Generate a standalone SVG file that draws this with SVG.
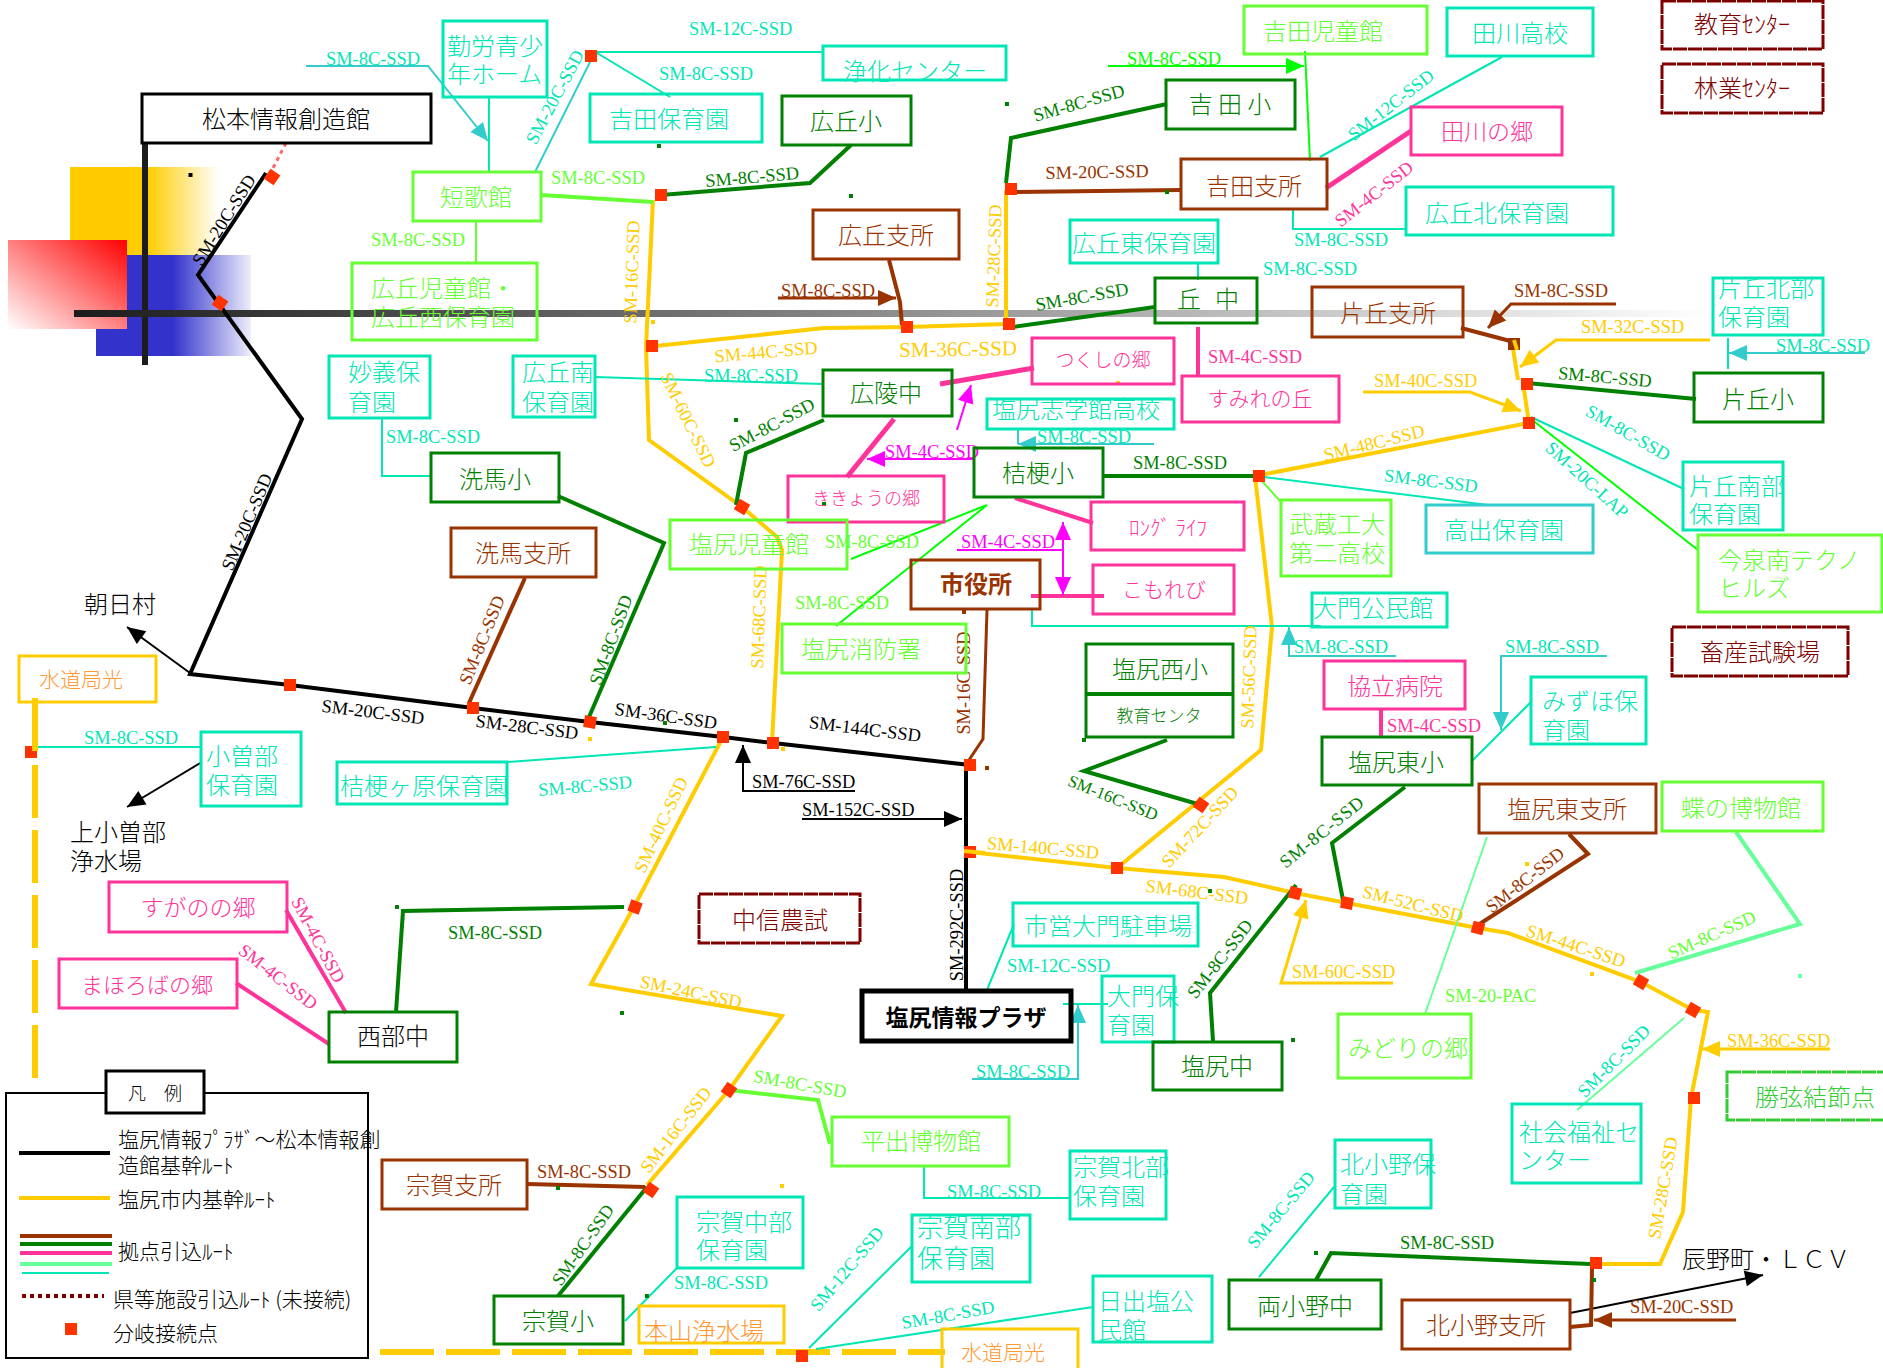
<svg xmlns="http://www.w3.org/2000/svg" width="1883" height="1368" viewBox="0 0 1883 1368">
<style>
text{font-family:"Noto Sans CJK JP","Noto Sans CJK SC",sans-serif;font-size:24px;font-weight:300}
.m{text-anchor:middle}
.l,.lr{font-family:"Liberation Serif","Noto Sans CJK JP",serif;font-size:18.4px;font-weight:400}
.lr{text-anchor:middle;dominant-baseline:central}
rect.b,path,line{fill:none}
rect.b{stroke-width:3}
.w2{stroke-width:2}.w3{stroke-width:3}.w4{stroke-width:4}.w5{stroke-width:5}
.st{stroke:#00e6b4}.sc{stroke:#33cccc}.sg{stroke:#66ff33}.sm{stroke:#66ff99}.sl{stroke:#00ff00}.sd{stroke:#008000}.sb{stroke:#993300}.sp{stroke:#ff3399}.sv{stroke:#ff00ff}.sy{stroke:#ffcc00}.sk{stroke:#000}.sr{stroke:#800000}
.ft{fill:#00e6b4}.fg{fill:#66ff33}.fd{fill:#008000}.fb{fill:#993300}.fp{fill:#ff3399}.fv{fill:#ff00ff}.fy{fill:#ffcc00}.fk{fill:#000}.fr{fill:#800000}.fo{fill:#ff9933}.fa{fill:#33cc33}.fl{fill:#00ff00}
.dash{stroke-dasharray:14 1}
</style>
<defs>
<linearGradient id="gGold" gradientUnits="userSpaceOnUse" x1="148" y1="0" x2="219" y2="0"><stop offset="0" stop-color="#ffcc00"/><stop offset="1" stop-color="#fff"/></linearGradient>
<linearGradient id="gBlue" gradientUnits="userSpaceOnUse" x1="173" y1="0" x2="251" y2="0"><stop offset="0" stop-color="#3333cc"/><stop offset="1" stop-color="#eeeefb"/></linearGradient>
<linearGradient id="gRed" x1="0" y1="1" x2="1" y2="0"><stop offset="0" stop-color="#fff"/><stop offset="1" stop-color="#ff0000"/></linearGradient>
<linearGradient id="gBar" gradientUnits="userSpaceOnUse" x1="74" y1="0" x2="1712" y2="0"><stop offset="0" stop-color="#1c1c1c"/><stop offset="1" stop-color="#fff"/></linearGradient>
<rect id="j" x="-6" y="-6" width="12" height="12" fill="#ff3300"/>
<rect id="dg" x="-2" y="-2" width="4" height="4" fill="#008000"/>
<rect id="dy" x="-2" y="-2" width="4" height="4" fill="#ffcc00"/>
<marker id="ak" markerUnits="userSpaceOnUse" markerWidth="20" markerHeight="20" viewBox="0 0 20 20" refX="19" refY="10" orient="auto"><path d="M1 2L19 10L1 18Z" style="fill:#000;stroke:none"/></marker>
<marker id="ac" markerUnits="userSpaceOnUse" markerWidth="20" markerHeight="20" viewBox="0 0 20 20" refX="19" refY="10" orient="auto"><path d="M1 2L19 10L1 18Z" style="fill:#33cccc;stroke:none"/></marker>
<marker id="al" markerUnits="userSpaceOnUse" markerWidth="20" markerHeight="20" viewBox="0 0 20 20" refX="19" refY="10" orient="auto"><path d="M1 2L19 10L1 18Z" style="fill:#00ff00;stroke:none"/></marker>
<marker id="ab" markerUnits="userSpaceOnUse" markerWidth="20" markerHeight="20" viewBox="0 0 20 20" refX="19" refY="10" orient="auto"><path d="M1 2L19 10L1 18Z" style="fill:#993300;stroke:none"/></marker>
<marker id="ay" markerUnits="userSpaceOnUse" markerWidth="20" markerHeight="20" viewBox="0 0 20 20" refX="19" refY="10" orient="auto"><path d="M1 2L19 10L1 18Z" style="fill:#ffcc00;stroke:none"/></marker>
<marker id="av" markerUnits="userSpaceOnUse" markerWidth="20" markerHeight="20" viewBox="0 0 20 20" refX="19" refY="10" orient="auto-start-reverse"><path d="M1 2L19 10L1 18Z" style="fill:#ff00ff;stroke:none"/></marker>
</defs>

<g id="background">
<rect x="70" y="167" width="79" height="89" fill="#ffcc00"/>
<rect x="148" y="167" width="71" height="89" fill="url(#gGold)"/>
<rect x="96" y="255" width="78" height="101" fill="#3333cc"/>
<rect x="173" y="255" width="78" height="101" fill="url(#gBlue)"/>
<rect x="8" y="240" width="119" height="89" fill="url(#gRed)"/>
<rect x="142" y="143" width="6" height="222" fill="#1c1c1c"/>
<rect x="74" y="310" width="1638" height="7" fill="url(#gBar)"/>
<rect x="188.500" y="173" width="4" height="4" fill="#000"/>
</g>

<g id="connectors">
<path class="sk w4" d="M266 173L198 275L302 419L190 674L290 685L473 708L590 722L723 737L773 743L970 765L966 765V990"/>
<path class="w3" stroke="#ff6666" stroke-dasharray="4 4" d="M286 143L272 170"/>
<path class="sk w2" marker-end="url(#ak)" d="M190 673L127 627"/>
<path class="sk w2" marker-end="url(#ak)" d="M202 762L127 807"/>
<path class="sk w2" marker-end="url(#ak)" d="M855 791H743V745"/>
<path class="sk w2" marker-end="url(#ak)" d="M802 819H962"/>
<path class="sk w2" marker-end="url(#ak)" d="M1570 1313L1763 1275"/>
<path class="sy w4" d="M653 200L646 347L649 440L742 507L777 537L782 550L772 743"/>
<path class="sy w4" d="M646 347L824 328L907 327L1006 324V190"/>
<path class="sy w4" d="M723 737L635 905L591 984L782 1016L729 1090L647 1185"/>
<path class="sy w4" d="M970 852L1117 868L1224 877L1295 893L1347 903L1478 928L1508 933L1641 982L1693 1010L1708 1012L1691 1098L1683 1212L1660 1264H1596"/>
<path class="sy w4" d="M1117 868L1261 750L1272 627L1255 476L1529 423L1523 383M1512 342L1518 380"/>
<path class="sy w3" marker-end="url(#ay)" d="M1710 340H1556L1520 367"/>
<path class="sy w3" marker-end="url(#ay)" d="M1363 392H1470L1521 411"/>
<path class="sy w3" marker-end="url(#ay)" d="M1393 983H1281L1306 900"/>
<path class="sy w3" marker-end="url(#ay)" d="M1830 1049H1702"/>
<path class="sy" stroke-width="6" stroke-dasharray="53 12" d="M35 698V752M35 765V1082"/>
<path class="sy" stroke-width="6" stroke-dasharray="54 12" d="M380 1352H945"/>
<path class="sd w4" d="M661 195L810 183L851 145"/>
<path class="sd w4" d="M1006 183L1011 138L1167 104"/>
<path class="sd w4" d="M1006 328L1155 307"/>
<path class="sd w4" d="M824 420L746 453L736 505"/>
<path class="sd w4" d="M1102 476H1257"/>
<path class="sd w4" d="M558 496L664 543L589 717"/>
<path class="sd w4" d="M1167 740L1084 771L1201 805"/>
<path class="sd w4" d="M1405 787L1332 843L1343 900"/>
<path class="sd w4" d="M1527 383L1696 399"/>
<path class="sd w4" d="M1213 1041L1210 993L1296 885"/>
<path class="sd w4" d="M1590 1264L1331 1253L1316 1280"/>
<path class="sd w4" d="M558 1296L647 1187"/>
<path class="sd w4" d="M396 1012L403 911L624 907"/>
<path class="sb w4" d="M1016 192L1181 190"/>
<path class="sb w4" d="M889 260L900 302L902 325"/>
<path class="sb w3" marker-end="url(#ab)" d="M778 298H896"/>
<path class="sb w3" d="M987 610L983 739L969 760"/>
<path class="sb w4" d="M469 703L525 578"/>
<path class="sb w4" d="M1461 328L1514 342"/>
<path class="sb w3" marker-end="url(#ab)" d="M1616 304H1511L1488 328"/>
<path class="sb w4" d="M1569 834L1588 854L1478 925"/>
<path class="sb w4" d="M527 1184L645 1187"/>
<path class="sb w4" d="M1592 1268L1591 1325L1570 1327"/>
<path class="sb w3" marker-end="url(#ab)" d="M1736 1320H1594"/>
<path class="sp w4" d="M1198 327V377"/>
<path class="sp w5" d="M940 384L1034 368"/>
<path class="sp w5" d="M894 419L847 477"/>
<path class="sp w4" d="M1015 498L1093 523"/>
<path class="sp w4" d="M1031 596H1104"/>
<path class="sp w5" d="M1326 188L1411 131"/>
<path class="sp w4" d="M1381 709V737"/>
<path class="sp w4" d="M286 910L346 1013"/>
<path class="sp w4" d="M236 983L329 1044"/>
<path class="sv w2" marker-end="url(#av)" d="M957 430L971 385"/>
<path class="sv w2" marker-end="url(#av)" d="M973 459H867"/>
<path class="sv w2" marker-start="url(#av)" marker-end="url(#av)" d="M1063 522V595"/>
<path class="sv w2" d="M957 550H1063"/>
<path class="sg w4" d="M541 195L653 202"/>
<path class="sg w2" d="M476 221V263"/>
<path class="sg w4" d="M729 1090L818 1100L830 1144"/>
<path class="sl w2" d="M851 559L987 505L836 626"/>
<path class="sl w2" marker-end="url(#al)" d="M1108 66H1304"/>
<path class="sl w2" d="M1305 51L1310 161"/>
<path class="sl w2" d="M1531 419L1698 550"/>
<path class="sm w4" d="M1736 832L1800 924L1635 973"/>
<path class="sm w2" d="M1487 837L1425 1014"/>
<path class="sm w2" d="M1684 1018L1577 1110"/>
<path class="sg w2" d="M1261 480L1281 502"/>
<path class="sc w2" marker-end="url(#ac)" d="M306 66H428L488 141"/>
<path class="st w2" d="M489 97V172"/>
<path class="sc w2" d="M535 172L591 60"/>
<path class="st w2" d="M597 52H823"/>
<path class="st w2" d="M597 53L670 97"/>
<path class="st w2" d="M595 377L823 384"/>
<path class="st w2" d="M1198 263V280"/>
<path class="sc w2" marker-end="url(#ac)" d="M1154 444H1018"/>
<path class="sc w2" d="M1018 444V430"/>
<path class="st w2" d="M382 418V476H431"/>
<path class="st w2" d="M507 762L716 747"/>
<path class="st w2" d="M33 747H201"/>
<path class="st w2" d="M1032 610V626H1321"/>
<path class="st w2" d="M1255 476L1488 505"/>
<path class="st w2" d="M1531 417L1684 489"/>
<path class="st w2" d="M1320 157L1502 57"/>
<path class="st w2" d="M1293 208V229H1406"/>
<path class="st w2" d="M1728 338V369"/>
<path class="sc w2" marker-end="url(#ac)" d="M1865 353H1729"/>
<path class="sc w2" marker-end="url(#ac)" d="M1396 656H1289V627"/>
<path class="sc w2" marker-end="url(#ac)" d="M1607 656H1501V730"/>
<path class="st w2" d="M1531 702L1471 762"/>
<path class="st w2" d="M1014 924L987 990"/>
<path class="st w2" d="M1063 1004H1108"/>
<path class="sc w2" marker-end="url(#ac)" d="M972 1079H1078V1005"/>
<path class="st w2" d="M924 1166V1198H1070"/>
<path class="st w2" d="M912 1246L809 1348"/>
<path class="st w2" d="M1093 1307L816 1349"/>
<path class="st w2" d="M677 1268L625 1321"/>
<path class="st w2" d="M1334 1187L1259 1277"/>
<rect x="1508" y="338" width="12" height="12" fill="#993300"/>
<use href="#j" transform="translate(272,177) rotate(35)"/><use href="#j" transform="translate(220,303) rotate(35)"/>
<use href="#j" transform="translate(591,56)"/><use href="#j" transform="translate(661,195)"/><use href="#j" transform="translate(652,346)"/>
<use href="#j" transform="translate(907,327)"/><use href="#j" transform="translate(1011,189)"/><use href="#j" transform="translate(1009,324)"/>
<use href="#j" transform="translate(1527,384)"/><use href="#j" transform="translate(1529,423)"/><use href="#j" transform="translate(1259,476)"/>
<use href="#j" transform="translate(742,507) rotate(30)"/>
<use href="#j" transform="translate(290,685)"/><use href="#j" transform="translate(473,708)"/><use href="#j" transform="translate(590,722) rotate(10)"/>
<use href="#j" transform="translate(723,737)"/><use href="#j" transform="translate(773,743)"/><use href="#j" transform="translate(970,765)"/>
<use href="#j" transform="translate(970,852)"/><use href="#j" transform="translate(1117,868)"/><use href="#j" transform="translate(1201,805) rotate(35)"/>
<use href="#j" transform="translate(1295,893) rotate(15)"/><use href="#j" transform="translate(1347,903) rotate(10)"/><use href="#j" transform="translate(1478,928) rotate(15)"/>
<use href="#j" transform="translate(1641,982) rotate(30)"/><use href="#j" transform="translate(1693,1010) rotate(30)"/><use href="#j" transform="translate(1694,1098)"/>
<use href="#j" transform="translate(1596,1263)"/><use href="#j" transform="translate(635,907) rotate(20)"/><use href="#j" transform="translate(729,1090) rotate(35)"/>
<use href="#j" transform="translate(651,1190) rotate(35)"/><use href="#j" transform="translate(802,1356)"/><use href="#j" transform="translate(31,752)"/>
<path class="sy w4" d="M964 851L985 853M1514 340L1517 350"/>
<path class="sy" stroke-width="6" d="M35 745V751"/>
<use href="#dg" x="1007" y="104"/><use href="#dg" x="659" y="146"/><use href="#dg" x="851" y="196"/><use href="#dg" x="736" y="420"/><use href="#dg" x="1167" y="192"/><use href="#dg" x="824" y="504"/><use href="#dg" x="665" y="723"/><use href="#dg" x="1210" y="891"/><use href="#dg" x="1084" y="740"/><use href="#dg" x="397" y="907"/><use href="#dg" x="622" y="1013"/><use href="#dg" x="558" y="1188"/><use href="#dg" x="647" y="1296"/><use href="#dg" x="1316" y="1253"/><use href="#dg" x="1594" y="1280"/><use href="#dg" x="1293" y="1040"/>
<use href="#dy" x="653" y="322"/><use href="#dy" x="1118" y="383"/><use href="#dy" x="590" y="739"/><use href="#dy" x="783" y="749"/><use href="#dy" x="782" y="1186"/><use href="#dy" x="1527" y="864"/><use href="#dy" x="1592" y="974"/>
<rect x="1798" y="974" width="4" height="4" fill="#66ff99"/><rect x="985" y="766" width="4" height="4" fill="#993300"/><rect x="962" y="608" width="4" height="6" fill="#993300"/>
</g>

<g id="connector-labels">
<text class="lr fk" transform="translate(224,220) rotate(-58)">SM-20C-SSD</text>
<text class="lr fk" transform="translate(247,522) rotate(-67)">SM-20C-SSD</text>
<text class="lr fk" transform="translate(373,712) rotate(7)">SM-20C-SSD</text>
<text class="lr fk" transform="translate(527,727) rotate(7)">SM-28C-SSD</text>
<text class="lr fk" transform="translate(666,716) rotate(8)">SM-36C-SSD</text>
<text class="lr fk" transform="translate(865,729) rotate(7)">SM-144C-SSD</text>
<text class="l fk" x="752" y="788">SM-76C-SSD</text>
<text class="l fk" x="802" y="816">SM-152C-SSD</text>
<text class="lr fk" transform="translate(957,925) rotate(-90)">SM-292C-SSD</text>
<text class="l ft" x="326" y="65">SM-8C-SSD</text>
<text class="lr ft" transform="translate(555,97) rotate(-62)">SM-20C-SSD</text>
<text class="l ft" x="689" y="35">SM-12C-SSD</text>
<text class="l ft" x="659" y="80">SM-8C-SSD</text>
<text class="l fg" x="551" y="184">SM-8C-SSD</text>
<text class="l fg" x="371" y="246">SM-8C-SSD</text>
<text class="lr fd" transform="translate(752,177) rotate(-5)">SM-8C-SSD</text>
<text class="lr fd" transform="translate(1079,103) rotate(-16)">SM-8C-SSD</text>
<text class="lr fb" transform="translate(1097,172) rotate(-1)">SM-20C-SSD</text>
<text class="l fl" x="1127" y="65">SM-8C-SSD</text>
<text class="lr ft" transform="translate(1391,105) rotate(-38)">SM-12C-SSD</text>
<text class="lr fp" transform="translate(1374,194) rotate(-38)">SM-4C-SSD</text>
<text class="l ft" x="1294" y="246">SM-8C-SSD</text>
<text class="l ft" x="1263" y="275">SM-8C-SSD</text>
<text class="lr fd" transform="translate(1082,297) rotate(-10)">SM-8C-SSD</text>
<text class="l fb" x="781" y="297">SM-8C-SSD</text>
<text class="lr fy" transform="translate(632,272) rotate(-88)">SM-16C-SSD</text>
<text class="lr fy" transform="translate(994,256) rotate(-88)">SM-28C-SSD</text>
<text class="lr fy" transform="translate(766,352) rotate(-5)">SM-44C-SSD</text>
<text class="lr fy" style="font-size:21px" transform="translate(958,349) rotate(-1)">SM-36C-SSD</text>
<text class="l ft" x="704" y="382">SM-8C-SSD</text>
<text class="lr fy" transform="translate(688,420) rotate(64)">SM-60C-SSD</text>
<text class="l fp" x="1208" y="363">SM-4C-SSD</text>
<text class="lr fd" transform="translate(772,425) rotate(-28)">SM-8C-SSD</text>
<text class="l ft" x="1037" y="443">SM-8C-SSD</text>
<text class="l fv" x="885" y="458">SM-4C-SSD</text>
<text class="l fd" x="1133" y="469">SM-8C-SSD</text>
<text class="l fv" x="961" y="548">SM-4C-SSD</text>
<text class="l fg" x="825" y="548">SM-8C-SSD</text>
<text class="l fg" x="795" y="609">SM-8C-SSD</text>
<text class="lr fb" transform="translate(964,683) rotate(-90)">SM-16C-SSD</text>
<text class="lr fy" transform="translate(759,617) rotate(-88)">SM-68C-SSD</text>
<text class="lr fb" transform="translate(482,640) rotate(-68)">SM-8C-SSD</text>
<text class="lr fd" transform="translate(611,640) rotate(-70)">SM-8C-SSD</text>
<text class="l ft" x="386" y="443">SM-8C-SSD</text>
<text class="l ft" x="84" y="744">SM-8C-SSD</text>
<text class="lr ft" transform="translate(585,786) rotate(-5)">SM-8C-SSD</text>
<text class="l fb" x="1514" y="297">SM-8C-SSD</text>
<text class="l fy" x="1581" y="333">SM-32C-SSD</text>
<text class="l ft" x="1776" y="352">SM-8C-SSD</text>
<text class="lr fd" transform="translate(1605,377) rotate(5)">SM-8C-SSD</text>
<text class="l fy" x="1374" y="387">SM-40C-SSD</text>
<text class="lr ft" transform="translate(1628,433) rotate(30)">SM-8C-SSD</text>
<text class="lr ft" transform="translate(1587,480) rotate(42)">SM-20C-LAP</text>
<text class="lr fy" transform="translate(1374,443) rotate(-14)">SM-48C-SSD</text>
<text class="lr ft" transform="translate(1431,481) rotate(7)">SM-8C-SSD</text>
<text class="l ft" x="1294" y="653">SM-8C-SSD</text>
<text class="l ft" x="1505" y="653">SM-8C-SSD</text>
<text class="l fp" x="1387" y="732">SM-4C-SSD</text>
<text class="lr fy" transform="translate(1249,677) rotate(-88)">SM-56C-SSD</text>
<text class="lr fy" transform="translate(1043,848) rotate(5)">SM-140C-SSD</text>
<text class="lr fy" transform="translate(1197,892) rotate(7)">SM-68C-SSD</text>
<text class="lr fy" transform="translate(1200,827) rotate(-47)">SM-72C-SSD</text>
<text class="lr fd" style="font-size:17px" transform="translate(1113,798) rotate(22)">SM-16C-SSD</text>
<text class="lr fy" transform="translate(661,825) rotate(-65)">SM-40C-SSD</text>
<text class="lr fy" transform="translate(691,992) rotate(12)">SM-24C-SSD</text>
<text class="lr fd" style="letter-spacing:1px" transform="translate(1322,832) rotate(-39)">SM-8C-SSD</text>
<text class="lr fb" transform="translate(1525,880) rotate(-38)">SM-8C-SSD</text>
<text class="lr fy" transform="translate(1413,904) rotate(14)">SM-52C-SSD</text>
<text class="lr fy" transform="translate(1576,946) rotate(18)">SM-44C-SSD</text>
<text class="lr fg" transform="translate(1712,935) rotate(-24)">SM-8C-SSD</text>
<text class="l fg" x="1445" y="1002">SM-20-PAC</text>
<text class="l fy" x="1292" y="978">SM-60C-SSD</text>
<text class="lr fd" transform="translate(1220,959) rotate(-52)">SM-8C-SSD</text>
<text class="lr ft" transform="translate(1614,1061) rotate(-45)">SM-8C-SSD</text>
<text class="l fy" x="1727" y="1047">SM-36C-SSD</text>
<text class="lr fy" transform="translate(1663,1188) rotate(-80)">SM-28C-SSD</text>
<text class="l fd" x="1400" y="1249">SM-8C-SSD</text>
<text class="lr ft" transform="translate(1281,1210) rotate(-50)">SM-8C-SSD</text>
<text class="l fb" x="1630" y="1313">SM-20C-SSD</text>
<text class="l fd" x="448" y="939">SM-8C-SSD</text>
<text class="lr fp" transform="translate(318,940) rotate(62)">SM-4C-SSD</text>
<text class="lr fp" transform="translate(278,977) rotate(38)">SM-4C-SSD</text>
<text class="l ft" x="1007" y="972">SM-12C-SSD</text>
<text class="l ft" x="976" y="1078">SM-8C-SSD</text>
<text class="lr fg" transform="translate(800,1084) rotate(10)">SM-8C-SSD</text>
<text class="l ft" x="947" y="1198">SM-8C-SSD</text>
<text class="lr fy" transform="translate(676,1130) rotate(-52)">SM-16C-SSD</text>
<text class="lr fd" transform="translate(583,1245) rotate(-55)">SM-8C-SSD</text>
<text class="l fb" x="537" y="1178">SM-8C-SSD</text>
<text class="l ft" x="674" y="1289">SM-8C-SSD</text>
<text class="lr ft" transform="translate(847,1269) rotate(-50)">SM-12C-SSD</text>
<text class="lr ft" transform="translate(948,1315) rotate(-10)">SM-8C-SSD</text>
</g>

<g id="n-matsumoto"><rect class="b sk" x="142" y="94" width="289" height="49"/><text class="m fk" x="286" y="128">松本情報創造館</text></g>
<g id="n-kinro"><rect class="b st" x="443" y="21" width="104" height="76"/><text class="ft" x="447" y="55">勤労青少</text><text class="ft" x="447" y="83">年ホーム</text></g>
<g id="n-tanka"><rect class="b sg" x="413" y="172" width="128" height="49"/><text class="m fg" x="476" y="206">短歌館</text></g>
<g id="n-hirooka-jido"><rect class="b sg" x="352" y="263" width="185" height="77"/><text class="fg" x="371" y="297">広丘児童館・</text><text class="fg" x="371" y="326">広丘西保育園</text></g>
<g id="n-myogi"><rect class="b st" x="329" y="356" width="101" height="62"/><text class="ft" x="348" y="381">妙義保</text><text class="ft" x="348" y="411">育園</text></g>
<g id="n-hirooka-minami"><rect class="b st" x="513" y="356" width="82" height="61"/><text class="ft" x="522" y="381">広丘南</text><text class="ft" x="522" y="411">保育園</text></g>
<g id="n-joka"><rect class="b st" x="823" y="46" width="183" height="34"/><text class="ft" x="843" y="80">浄化センター</text></g>
<g id="n-yoshida-hoiku"><rect class="b st" x="590" y="94" width="172" height="48"/><text class="m ft" x="669" y="128">吉田保育園</text></g>
<g id="n-hirooka-sho"><rect class="b sd" x="782" y="96" width="129" height="49"/><text class="m fd" x="846" y="130">広丘小</text></g>
<g id="n-yoshida-sho"><rect class="b sd" x="1166" y="80" width="129" height="49"/><text class="m fd" x="1230" y="113">吉 田 小</text></g>
<g id="n-yoshida-shisho"><rect class="b sb" x="1181" y="159" width="146" height="50"/><text class="m fb" x="1254" y="195">吉田支所</text></g>
<g id="n-hirooka-shisho"><rect class="b sb" x="813" y="210" width="146" height="49"/><text class="m fb" x="886" y="244">広丘支所</text></g>
<g id="n-hirooka-higashi"><rect class="b st" x="1070" y="220" width="148" height="43"/><text class="m ft" x="1144" y="252">広丘東保育園</text></g>
<g id="n-oka-chu"><rect class="b sd" x="1155" y="278" width="102" height="45"/><text class="fd" x="1177" y="308">丘</text><text class="fd" x="1215" y="308">中</text></g>
<g id="n-sumire"><rect class="b sp" x="1182" y="376" width="157" height="46"/><text class="m fp" x="1260" y="406" style="font-size:21px">すみれの丘</text></g>
<g id="n-tsukushi"><rect class="b sp" x="1032" y="338" width="142" height="46"/><text class="m fp" x="1103" y="367" style="font-size:19px">つくしの郷</text></g>
<g id="n-koryo"><rect class="b sd" x="823" y="370" width="129" height="46"/><text class="m fd" x="886" y="402">広陵中</text></g>
<g id="n-shigaku"><rect class="b st" x="987" y="399" width="187" height="30"/><text class="ft" x="992" y="418">塩尻志学館高校</text></g>
<g id="n-kikyo-sho"><rect class="b sd" x="974" y="448" width="129" height="49"/><text class="m fd" x="1038" y="482">桔梗小</text></g>
<g id="n-kikyo-sato"><rect class="b sp" x="788" y="476" width="156" height="46"/><text class="m fp" x="866" y="505" style="font-size:18px">ききょうの郷</text></g>
<g id="n-long"><rect class="b sp" x="1091" y="502" width="153" height="48"/><text class="m fp" x="1168" y="535" style="font-size:21px">ﾛﾝｸﾞ ﾗｲﾌ</text></g>
<g id="n-komorebi"><rect class="b sp" x="1093" y="565" width="141" height="49"/><text class="m fp" x="1164" y="597" style="font-size:21px">こもれび</text></g>
<g id="n-shiyakusho"><rect class="b sb" x="911" y="560" width="129" height="49"/><text class="m fb" x="976" y="593" style="font-weight:700">市役所</text></g>
<g id="n-shiojiri-jido"><rect class="b sg" x="670" y="520" width="177" height="49"/><text class="m fg" x="749" y="553">塩尻児童館</text></g>
<g id="n-shobo"><rect class="b sg" x="782" y="624" width="184" height="49"/><text class="m fg" x="861" y="658">塩尻消防署</text></g>
<g id="n-senba-shisho"><rect class="b sb" x="451" y="528" width="145" height="49"/><text class="m fb" x="523" y="562">洗馬支所</text></g>
<g id="n-senba-sho"><rect class="b sd" x="431" y="453" width="128" height="49"/><text class="m fd" x="495" y="488">洗馬小</text></g>
<g id="n-kikyogahara"><rect class="b st" x="337" y="762" width="170" height="42"/><text class="ft" x="340" y="795">桔梗ヶ原保育園</text></g>
<g id="n-osobe"><rect class="b st" x="201" y="732" width="100" height="74"/><text class="ft" x="206" y="765">小曽部</text><text class="ft" x="206" y="794">保育園</text></g>
<g id="n-suido1"><rect class="b sy" x="19" y="656" width="137" height="46"/><text class="m fo" x="81" y="687" style="font-size:21px">水道局光</text></g>
<g id="n-asahi"><text class="fk" x="84" y="613">朝日村</text></g>
<g id="n-kamiosobe"><text class="fk" x="70" y="841">上小曽部</text><text class="fk" x="70" y="870">浄水場</text></g>
<g id="n-katao-shisho"><rect class="b sb" x="1312" y="287" width="151" height="50"/><text class="m fb" x="1388" y="322">片丘支所</text></g>
<g id="n-katao-hokubu"><rect class="b st" x="1713" y="278" width="110" height="57"/><text class="ft" x="1718" y="297">片丘北部</text><text class="ft" x="1718" y="326">保育園</text></g>
<g id="n-katao-sho"><rect class="b sd" x="1694" y="373" width="129" height="49"/><text class="m fd" x="1758" y="408">片丘小</text></g>
<g id="n-katao-nanbu"><rect class="b st" x="1683" y="462" width="100" height="68"/><text class="ft" x="1689" y="495">片丘南部</text><text class="ft" x="1689" y="523">保育園</text></g>
<g id="n-imaizumi"><rect class="b sg" x="1698" y="535" width="184" height="77"/><text class="fg" x="1718" y="569">今泉南テクノ</text><text class="fg" x="1718" y="597">ヒルズ</text></g>
<g id="n-takaide"><rect class="b sc" x="1426" y="505" width="167" height="48"/><text class="m ft" x="1504" y="539">高出保育園</text></g>
<g id="n-musashi"><rect class="b sg" x="1281" y="500" width="110" height="76"/><text class="fg" x="1289" y="533">武蔵工大</text><text class="fg" x="1289" y="562">第二高校</text></g>
<g id="n-daimon-kominkan"><rect class="b st" x="1312" y="593" width="135" height="34"/><text class="ft" x="1313" y="617">大門公民館</text></g>
<g id="n-kyoritsu"><rect class="b sp" x="1324" y="661" width="141" height="48"/><text class="m fp" x="1395" y="695">協立病院</text></g>
<g id="n-mizuho"><rect class="b st" x="1531" y="677" width="115" height="67"/><text class="ft" x="1542" y="710">みずほ保</text><text class="ft" x="1542" y="739">育園</text></g>
<g id="n-higashi-sho"><rect class="b sd" x="1322" y="737" width="150" height="48"/><text class="m fd" x="1396" y="771">塩尻東小</text></g>
<g id="n-higashi-shisho"><rect class="b sb" x="1479" y="784" width="177" height="49"/><text class="m fb" x="1567" y="818">塩尻東支所</text></g>
<g id="n-chou"><rect class="b sg" x="1662" y="782" width="161" height="49"/><text class="m fg" x="1741" y="817">蝶の博物館</text></g>
<g id="n-nishi-sho"><rect class="b sd" x="1086" y="644" width="147" height="93"/><line class="sd w4" x1="1086" y1="694" x2="1233" y2="694"/><text class="m fd" x="1160" y="678">塩尻西小</text><text class="m fd" x="1159" y="722" style="font-size:17px">教育センタ</text></g>
<g id="n-kyoiku"><rect class="b sr dash" x="1662" y="1" width="161" height="48"/><text class="m fr" x="1742" y="33">教育ｾﾝﾀｰ</text></g>
<g id="n-ringyo"><rect class="b sr dash" x="1662" y="64" width="161" height="49"/><text class="m fr" x="1742" y="97">林業ｾﾝﾀｰ</text></g>
<g id="n-chikusan"><rect class="b sr dash" x="1672" y="627" width="176" height="49"/><text class="m fr" x="1760" y="661">畜産試験場</text></g>
<g id="n-chushin"><rect class="b sr dash" x="699" y="894" width="161" height="49"/><text class="m fr" x="780" y="929">中信農試</text></g>
<g id="n-plaza"><rect class="b sk" style="stroke-width:5" x="862" y="991" width="209" height="50"/><text class="m fk" x="966" y="1026" style="font-weight:700;font-size:23px">塩尻情報プラザ</text></g>
<g id="n-chushajo"><rect class="b st" x="1013" y="903" width="185" height="43"/><text class="m ft" x="1108" y="935">市営大門駐車場</text></g>
<g id="n-daimon-hoiku"><rect class="b st" x="1102" y="976" width="72" height="66"/><text class="ft" x="1107" y="1005">大門保</text><text class="ft" x="1107" y="1034">育園</text></g>
<g id="n-hiraide"><rect class="b sg" x="832" y="1117" width="177" height="49"/><text class="m fg" x="921" y="1150">平出博物館</text></g>
<g id="n-soga-hoku"><rect class="b st" x="1070" y="1151" width="96" height="68"/><text class="ft" x="1073" y="1176">宗賀北部</text><text class="ft" x="1073" y="1205">保育園</text></g>
<g id="n-soga-nan"><rect class="b st" x="912" y="1215" width="118" height="67"/><text class="ft" x="917" y="1237" style="font-size:26px">宗賀南部</text><text class="ft" x="917" y="1268" style="font-size:26px">保育園</text></g>
<g id="n-hiide"><rect class="b st" x="1093" y="1276" width="119" height="66"/><text class="ft" x="1098" y="1310">日出塩公</text><text class="ft" x="1098" y="1339">民館</text></g>
<g id="n-suido2"><rect class="b sy" x="942" y="1329" width="136" height="45"/><text class="m fo" x="1003" y="1360" style="font-size:21px">水道局光</text></g>
<g id="n-motoyama"><rect class="b sy" x="639" y="1306" width="145" height="37"/><text class="fo" x="644" y="1340">本山浄水場</text></g>
<g id="n-soga-chu"><rect class="b st" x="677" y="1197" width="126" height="71"/><text class="ft" x="696" y="1231">宗賀中部</text><text class="ft" x="696" y="1259">保育園</text></g>
<g id="n-soga-sho"><rect class="b sd" x="494" y="1296" width="129" height="48"/><text class="m fd" x="558" y="1330">宗賀小</text></g>
<g id="n-soga-shisho"><rect class="b sb" x="382" y="1160" width="145" height="49"/><text class="m fb" x="454" y="1194">宗賀支所</text></g>
<g id="n-seibu"><rect class="b sd" x="329" y="1012" width="128" height="50"/><text class="m fk" x="393" y="1045">西部中</text></g>
<g id="n-sugano"><rect class="b sp" x="109" y="882" width="178" height="50"/><text class="m fp" x="198" y="916" style="font-size:23px">すがのの郷</text></g>
<g id="n-mahoroba"><rect class="b sp" x="59" y="959" width="178" height="49"/><text class="m fp" x="147" y="993" style="font-size:22px">まほろばの郷</text></g>
<g id="n-shiojiri-chu"><rect class="b sd" x="1153" y="1042" width="129" height="48"/><text class="m fd" x="1217" y="1075">塩尻中</text></g>
<g id="n-midori"><rect class="b sg" x="1338" y="1014" width="133" height="64"/><text class="m fg" x="1408" y="1057">みどりの郷</text></g>
<g id="n-fukushi"><rect class="b st" x="1512" y="1104" width="129" height="79"/><text class="ft" x="1519" y="1141">社会福祉セ</text><text class="ft" x="1519" y="1169">ンター</text></g>
<g id="n-shogen"><rect class="b dash" style="stroke:#33cc33" x="1727" y="1072" width="160" height="48"/><text class="fa" x="1755" y="1106">勝弦結節点</text></g>
<g id="n-kitaono-hoiku"><rect class="b st" x="1335" y="1140" width="96" height="68"/><text class="ft" x="1340" y="1173">北小野保</text><text class="ft" x="1340" y="1203">育園</text></g>
<g id="n-ryoono"><rect class="b sd" x="1229" y="1280" width="152" height="49"/><text class="m fd" x="1305" y="1315">両小野中</text></g>
<g id="n-kitaono-shisho"><rect class="b sb" x="1402" y="1300" width="168" height="49"/><text class="m fb" x="1486" y="1334">北小野支所</text></g>
<g id="n-tatsuno"><text class="fk" x="1682" y="1268">辰野町・ＬＣＶ</text></g>
<g id="n-yoshida-jido"><rect class="b sg" x="1244" y="6" width="183" height="48"/><text class="m fg" x="1323" y="40">吉田児童館</text></g>
<g id="n-tagawa-ko"><rect class="b st" x="1447" y="8" width="146" height="48"/><text class="m ft" x="1520" y="42">田川高校</text></g>
<g id="n-tagawa-sato"><rect class="b sp" x="1411" y="107" width="151" height="48"/><text class="m fp" x="1487" y="140" style="font-size:23px">田川の郷</text></g>
<g id="n-hirooka-kita"><rect class="b st" x="1406" y="187" width="207" height="48"/><text class="m ft" x="1497" y="222">広丘北保育園</text></g>

<g id="legend">
<rect x="6" y="1093" width="362" height="265" fill="none" stroke="#000" stroke-width="2"/>
<rect x="106" y="1071" width="98" height="42" fill="#fff" stroke="#000" stroke-width="3"/>
<text class="m fk" x="155" y="1100" style="font-size:18px">凡　例</text>
<line class="sk w4" x1="19" y1="1153" x2="110" y2="1153"/>
<text class="fk" x="118" y="1147" style="font-size:21px">塩尻情報ﾌﾟﾗｻﾞ～松本情報創</text>
<text class="fk" x="118" y="1173" style="font-size:21px">造館基幹ﾙｰﾄ</text>
<line class="sy w4" x1="19" y1="1198" x2="110" y2="1198"/>
<text class="fk" x="118" y="1207" style="font-size:21px">塩尻市内基幹ﾙｰﾄ</text>
<line class="sb w4" x1="20" y1="1236" x2="112" y2="1236"/>
<line class="sd w4" x1="20" y1="1244" x2="112" y2="1244"/>
<line class="sp w4" x1="20" y1="1253" x2="112" y2="1253"/>
<line class="sm w4" x1="20" y1="1264" x2="112" y2="1264"/>
<line class="st w2" x1="22" y1="1273" x2="109" y2="1273"/>
<text class="fk" x="118" y="1259" style="font-size:21px">拠点引込ﾙｰﾄ</text>
<line class="sr w4" stroke-dasharray="4 4" x1="22" y1="1296" x2="104" y2="1296"/>
<text class="fk" x="113" y="1307" style="font-size:21px">県等施設引込ﾙｰﾄ (未接続)</text>
<use href="#j" x="71" y="1329"/>
<text class="fk" x="113" y="1341" style="font-size:21px">分岐接続点</text>
</g>
</svg>
